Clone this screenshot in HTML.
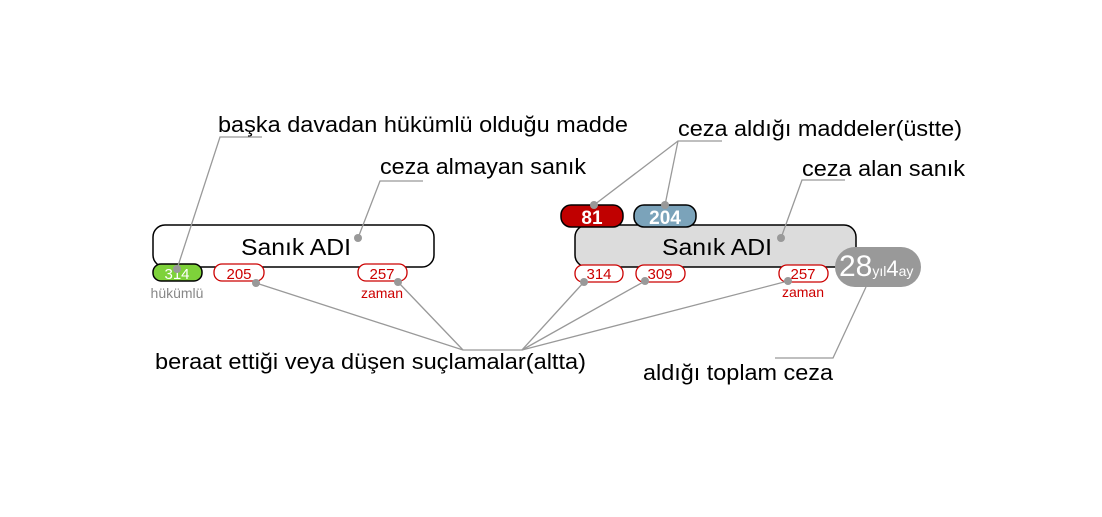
<!DOCTYPE html>
<html><head><meta charset="utf-8"><style>
html,body{margin:0;padding:0;background:#fff;}
svg{display:block;font-family:"Liberation Sans",Arial,sans-serif;}
</style></head><body>
<svg width="1102" height="517" viewBox="0 0 1102 517" xmlns="http://www.w3.org/2000/svg">
<!-- left box -->
<rect x="153" y="225" width="281" height="42" rx="12" fill="#fff" stroke="#000" stroke-width="1.5"/>
<text x="241" y="255" font-size="23" textLength="110" lengthAdjust="spacingAndGlyphs">Sanık ADI</text>
<rect x="153" y="264" width="49" height="17" rx="8" fill="#7ed23a" stroke="#000" stroke-width="1.5"/>
<text x="177" y="279" font-size="15" fill="#fff" text-anchor="middle">314</text>
<text x="177" y="298" font-size="14" fill="#888" text-anchor="middle">hükümlü</text>
<rect x="214" y="264" width="50" height="17" rx="8" fill="#fff" stroke="#c00" stroke-width="1.3"/>
<text x="239" y="279" font-size="15" fill="#c00" text-anchor="middle">205</text>
<rect x="358" y="264" width="49" height="17" rx="8" fill="#fff" stroke="#c00" stroke-width="1.3"/>
<text x="382" y="279" font-size="15" fill="#c00" text-anchor="middle">257</text>
<text x="382" y="298" font-size="14" fill="#c00" text-anchor="middle">zaman</text>
<!-- right box -->
<rect x="575" y="225" width="281" height="42" rx="12" fill="#dcdcdc" stroke="#000" stroke-width="1.5"/>
<text x="662" y="255" font-size="23" textLength="110" lengthAdjust="spacingAndGlyphs">Sanık ADI</text>
<rect x="561" y="205" width="62" height="22" rx="10" fill="#c00000" stroke="#000" stroke-width="1.5"/>
<text x="592" y="224" font-size="19" font-weight="bold" fill="#fff" text-anchor="middle">81</text>
<rect x="634" y="205" width="62" height="22" rx="10" fill="#7ba3ba" stroke="#000" stroke-width="1.5"/>
<text x="665" y="224" font-size="19" font-weight="bold" fill="#fff" text-anchor="middle">204</text>
<rect x="575" y="265" width="48" height="17" rx="8" fill="#fff" stroke="#c00" stroke-width="1.3"/>
<text x="599" y="279" font-size="15" fill="#c00" text-anchor="middle">314</text>
<rect x="636" y="265" width="49" height="17" rx="8" fill="#fff" stroke="#c00" stroke-width="1.3"/>
<text x="660" y="279" font-size="15" fill="#c00" text-anchor="middle">309</text>
<rect x="779" y="265" width="49" height="17" rx="8" fill="#fff" stroke="#c00" stroke-width="1.3"/>
<text x="803" y="279" font-size="15" fill="#c00" text-anchor="middle">257</text>
<text x="803" y="297" font-size="14" fill="#c00" text-anchor="middle">zaman</text>
<rect x="835" y="247" width="86" height="40" rx="20" fill="#999"/>
<text x="839" y="276" fill="#fff"><tspan font-size="30">28</tspan><tspan font-size="14">yıl</tspan><tspan font-size="22">4</tspan><tspan font-size="14">ay</tspan></text>
<!-- lines on top -->
<g stroke="#999" stroke-width="1.3" fill="none">
<polyline points="262,137 220,137 177,269"/>
<polyline points="423,181 380,181 358,238"/>
<polyline points="722,141 678,141 594,205"/>
<polyline points="678,141 665,205"/>
<polyline points="845,180 802,180 781,238"/>
<polyline points="256,283 463,350 522,350 584,282"/>
<polyline points="398,282 463,350"/>
<polyline points="522,350 645,281"/>
<polyline points="522,350 788,281"/>
<polyline points="775,358 833,358 866,287"/>
</g>
<g fill="#999">
<circle cx="177" cy="269" r="4"/><circle cx="256" cy="283" r="4"/><circle cx="398" cy="282" r="4"/>
<circle cx="358" cy="238" r="4"/><circle cx="781" cy="238" r="4"/>
<circle cx="594" cy="205" r="4"/><circle cx="665" cy="205" r="4"/>
<circle cx="584" cy="282" r="4"/><circle cx="645" cy="281" r="4"/><circle cx="788" cy="281" r="4"/>
</g>
<!-- labels -->
<g font-size="22" fill="#000" lengthAdjust="spacingAndGlyphs">
<text x="218" y="132" textLength="410" lengthAdjust="spacingAndGlyphs">başka davadan hükümlü olduğu madde</text>
<text x="380" y="174" textLength="206" lengthAdjust="spacingAndGlyphs">ceza almayan sanık</text>
<text x="678" y="136" textLength="284" lengthAdjust="spacingAndGlyphs">ceza aldığı maddeler(üstte)</text>
<text x="802" y="176" textLength="163" lengthAdjust="spacingAndGlyphs">ceza alan sanık</text>
<text x="155" y="369" textLength="431" lengthAdjust="spacingAndGlyphs">beraat ettiği veya düşen suçlamalar(altta)</text>
<text x="643" y="380" textLength="190" lengthAdjust="spacingAndGlyphs">aldığı toplam ceza</text>
</g>
</svg>
</body></html>
